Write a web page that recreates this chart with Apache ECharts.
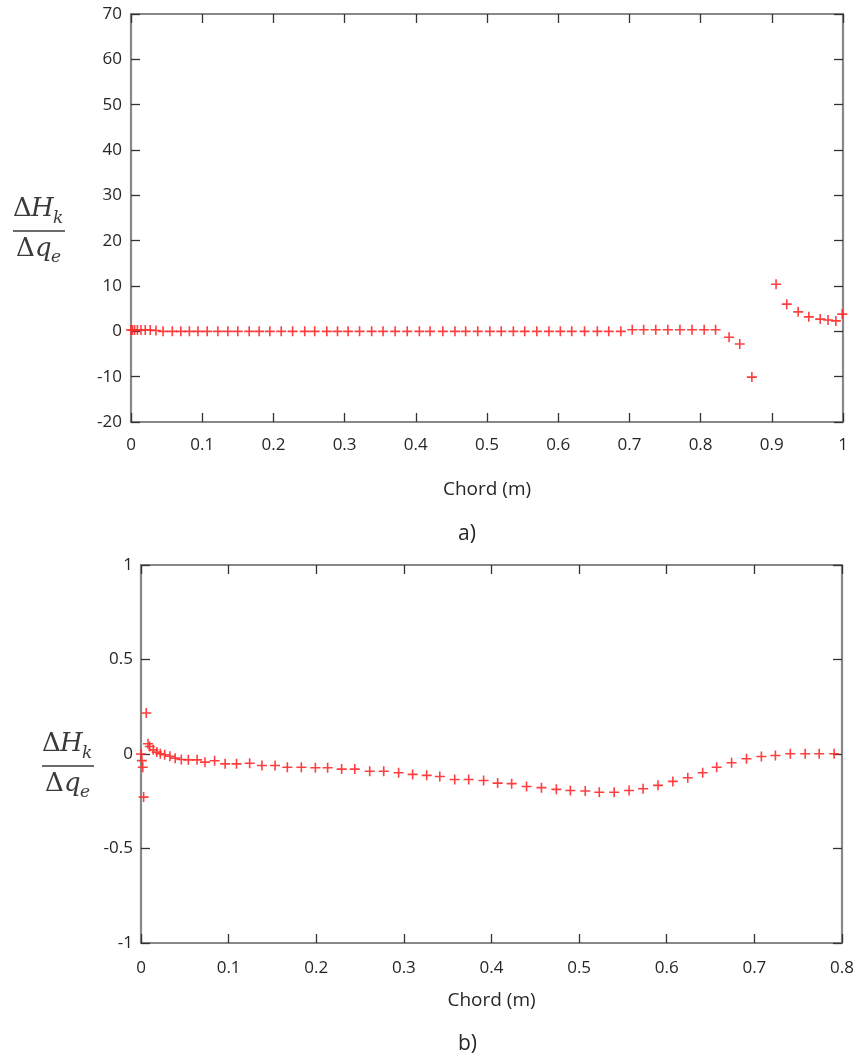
<!DOCTYPE html>
<html>
<head>
    <meta charset="utf-8">
    <title>Chord</title>
    <script src="https://cdn.jsdelivr.net/npm/echarts@6/dist/echarts.min.js"></script>
</head>
<body style="margin:0;background:#fff">
    <div id="main" style="width:863px;height:1064px;"></div>
    <script type="text/javascript">
        // a) full chord
        var chordA = [0, 0.002, 0.005, 0.009, 0.014, 0.020, 0.027, 0.035,
            0.045, 0.058, 0.070, 0.082, 0.094, 0.107, 0.122, 0.136, 0.150, 0.166, 0.180, 0.195,
            0.211, 0.227, 0.244, 0.258, 0.275, 0.290, 0.305, 0.321, 0.338, 0.354, 0.371, 0.388,
            0.405, 0.420, 0.438, 0.455, 0.470, 0.487, 0.504, 0.520, 0.537, 0.553, 0.570, 0.587,
            0.603, 0.619, 0.637, 0.655, 0.671, 0.688,
            0.704, 0.720, 0.737, 0.754, 0.771, 0.788, 0.805, 0.821,
            0.840, 0.855, 0.872, 0.906, 0.921, 0.937, 0.952, 0.968, 0.979, 0.990, 0.999];
        var valueA = [0.3, 0.3, 0.3, 0.3, 0.3, 0.3, 0.3, 0.2,
            0, 0, 0, 0, 0, 0, 0, 0, 0, 0, 0, 0,
            0, 0, 0, 0, 0, 0, 0, 0, 0, 0, 0, 0,
            0, 0, 0, 0, 0, 0, 0, 0, 0, 0, 0, 0,
            0, 0, 0, 0, 0, 0,
            0.35, 0.35, 0.35, 0.35, 0.35, 0.35, 0.35, 0.35,
            -1.3, -2.8, -10.1, 10.4, 6.0, 4.3, 3.2, 2.7, 2.5, 2.3, 3.8];

        // b) zoom on 0 - 0.8
        var chordB = [0, 0.001, 0.002, 0.003, 0.006, 0.008, 0.010, 0.014, 0.018, 0.022,
            0.027, 0.033, 0.039, 0.046, 0.054, 0.064, 0.073, 0.084, 0.096, 0.109,
            0.124, 0.138, 0.153, 0.167, 0.183, 0.199, 0.213, 0.229, 0.244, 0.261,
            0.277, 0.294, 0.310, 0.326, 0.341, 0.358, 0.374, 0.391, 0.407, 0.423,
            0.440, 0.457, 0.474, 0.490, 0.507, 0.523, 0.540, 0.557, 0.573, 0.590,
            0.607, 0.624, 0.641, 0.657, 0.674, 0.691, 0.708, 0.724, 0.741, 0.758,
            0.774, 0.791];
        var valueB = [0, -0.035, -0.07, -0.228, 0.217, 0.054, 0.04, 0.022, 0.01, 0.001,
            -0.004, -0.012, -0.022, -0.029, -0.031, -0.031, -0.043, -0.036, -0.052, -0.052,
            -0.049, -0.061, -0.061, -0.07, -0.07, -0.073, -0.073, -0.08, -0.08, -0.091,
            -0.091, -0.099, -0.108, -0.113, -0.119, -0.135, -0.135, -0.14, -0.154, -0.157,
            -0.172, -0.178, -0.187, -0.193, -0.196, -0.202, -0.202, -0.193, -0.184, -0.166,
            -0.145, -0.126, -0.099, -0.07, -0.046, -0.025, -0.013, -0.008, 0.001, 0.001,
            0.001, 0.001];

        // axis ticks: [min, max, interval]
        var xTicksA = [0, 1, 0.1];
        var yTicksA = [-20, 70, 10];
        var xTicksB = [0, 0.8, 0.1];
        var yTicksB = [-1, 1, 0.5];

        var labelFont = "'Open Sans', sans-serif";
        var textColor = '#262626';
        var plus = 'path://M42 0H58V42H100V58H58V100H42V58H0V42H42Z';

        function pairs(xs, ys) {
            var out = [];
            for (var i = 0; i < xs.length; i++) out.push([xs[i], ys[i]]);
            return out;
        }

        function axis(grid, pos, ticks, showLabel, margin) {
            return {
                type: 'value', gridIndex: grid, position: pos,
                min: ticks[0], max: ticks[1], interval: ticks[2],
                axisLine: { show: true, onZero: false, lineStyle: { color: '#888', width: 2.2 } },
                axisTick: { show: true, inside: true, length: 9, lineStyle: { color: '#333', width: 1.3 } },
                axisLabel: { show: showLabel, color: textColor, fontSize: 17, fontFamily: labelFont, margin: margin },
                splitLine: { show: false }
            };
        }

        var myChart = echarts.init(document.getElementById('main'));

        var xA = axis(0, 'bottom', xTicksA, true, 15);
        xA.name = 'Chord (m)'; xA.nameLocation = 'middle'; xA.nameGap = 58;
        xA.nameTextStyle = { color: textColor, fontSize: 19, fontFamily: labelFont };
        var xB = axis(1, 'bottom', xTicksB, true, 17);
        xB.name = 'Chord (m)'; xB.nameLocation = 'middle'; xB.nameGap = 48;
        xB.nameTextStyle = { color: textColor, fontSize: 19, fontFamily: labelFont };

        function frac(x, y, group) {
            var serif = "'DejaVu Serif', serif";
            var els = [
                { t: '\u0394', dx: 0, dy: -19, s: 'normal', f: 26 },
                { t: 'H', dx: 18, dy: -19, s: 'italic', f: 26 },
                { t: 'k', dx: 40, dy: -11, s: 'italic', f: 17 },
                { t: '\u0394', dx: 3, dy: 21, s: 'normal', f: 26 },
                { t: 'q', dx: 22, dy: 21, s: 'italic', f: 26 },
                { t: 'e', dx: 38, dy: 28, s: 'italic', f: 17 }
            ];
            els.forEach(function (e) {
                group.push({
                    type: 'text', left: x + e.dx, top: y + e.dy - e.f * 0.6,
                    style: { text: e.t, fill: '#3a3a3a', font: e.s + ' ' + e.f + 'px ' + serif }
                });
            });
            group.push({
                type: 'line', shape: { x1: x, y1: y, x2: x + 52, y2: y },
                style: { stroke: '#3a3a3a', lineWidth: 1.4 }
            });
        }

        var graphics = [];
        frac(13, 231, graphics);
        frac(42, 766, graphics);
        graphics.push({ type: 'text', left: 458, top: 524,
            style: { text: 'a)', fill: textColor, font: "21px 'Open Sans', sans-serif" } });
        graphics.push({ type: 'text', left: 458, top: 1034,
            style: { text: 'b)', fill: textColor, font: "21px 'Open Sans', sans-serif" } });

        var option = {
            animation: false,
            backgroundColor: '#fff',
            grid: [
                { left: 131, top: 14, width: 712, height: 408 },
                { left: 141, top: 565, width: 701, height: 378 }
            ],
            xAxis: [
                xA,
                axis(0, 'top', xTicksA, false, 8),
                xB,
                axis(1, 'top', xTicksB, false, 8)
            ],
            yAxis: [
                axis(0, 'left', yTicksA, true, 9),
                axis(0, 'right', yTicksA, false, 8),
                axis(1, 'left', yTicksB, true, 8),
                axis(1, 'right', yTicksB, false, 8)
            ],
            graphic: graphics,
            series: [
                {
                    type: 'scatter', xAxisIndex: 0, yAxisIndex: 0,
                    symbol: plus, symbolSize: 10,
                    itemStyle: { color: '#ff2a2a', opacity: 0.9 },
                    data: pairs(chordA, valueA)
                },
                {
                    type: 'scatter', xAxisIndex: 2, yAxisIndex: 2,
                    symbol: plus, symbolSize: 10,
                    itemStyle: { color: '#ff2a2a', opacity: 0.9 },
                    data: pairs(chordB, valueB)
                }
            ]
        };

        myChart.setOption(option);
    </script>
</body>
</html>
